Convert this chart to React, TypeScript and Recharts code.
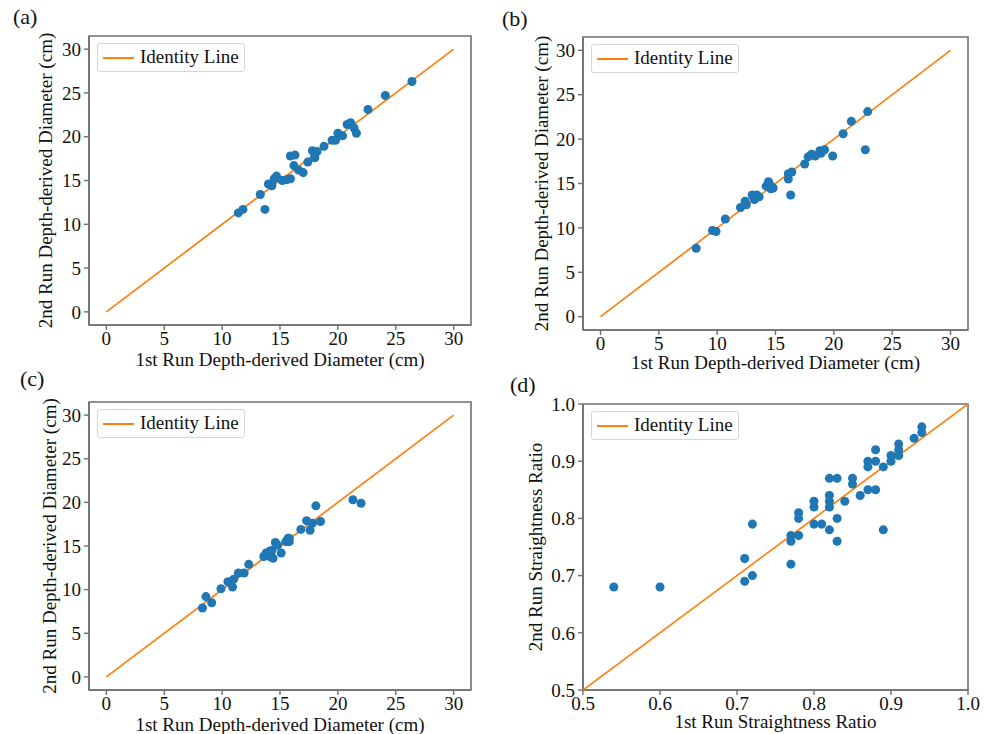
import {
  Legend,
  ReferenceArea,
  Scatter,
  ScatterChart,
  XAxis,
  YAxis,
  ZAxis,
} from 'recharts'

// (a) run-to-run depth-derived diameters, cm
const A_RUN1 = [11.4, 11.8, 13.3, 13.7, 14.0, 14.3, 14.5, 14.7, 15.2, 15.6, 15.9, 15.9, 16.3, 16.2, 16.6, 17.0, 17.4, 17.8, 18.0, 18.2, 18.0, 18.8, 19.5, 19.8, 20.0, 20.4, 20.8, 21.1, 21.4, 21.6, 22.6, 24.1, 26.4]
const A_RUN2 = [11.3, 11.7, 13.4, 11.7, 14.6, 14.4, 15.2, 15.5, 15.0, 15.1, 15.2, 17.8, 17.9, 16.7, 16.2, 15.9, 17.1, 18.4, 17.6, 18.3, 17.9, 18.9, 19.6, 19.6, 20.4, 20.1, 21.4, 21.6, 21.0, 20.4, 23.1, 24.7, 26.3]

// (b)
const B_RUN1 = [8.2, 9.6, 9.9, 10.7, 12.0, 12.4, 12.5, 13.0, 13.1, 13.2, 13.4, 13.6, 14.2, 14.4, 14.5, 14.6, 14.8, 16.1, 16.1, 16.3, 16.4, 17.5, 17.8, 18.1, 18.4, 18.8, 18.9, 19.2, 19.9, 20.8, 21.5, 22.7, 22.9]
const B_RUN2 = [7.7, 9.7, 9.6, 11.0, 12.3, 13.0, 12.6, 13.7, 13.5, 13.2, 13.7, 13.5, 14.7, 15.2, 14.9, 14.4, 14.5, 15.5, 16.1, 13.7, 16.3, 17.2, 18.0, 18.3, 18.1, 18.7, 18.4, 18.8, 18.1, 20.6, 22.0, 18.8, 23.1]

// (c)
const C_RUN1 = [8.3, 8.6, 9.1, 9.9, 10.5, 10.9, 11.0, 11.4, 11.9, 12.3, 13.6, 13.8, 13.9, 14.1, 14.1, 14.3, 14.4, 14.6, 14.8, 15.1, 15.5, 15.7, 15.8, 15.8, 16.8, 17.3, 17.6, 17.8, 18.1, 18.5, 21.3, 22.0]
const C_RUN2 = [7.9, 9.2, 8.5, 10.1, 10.9, 10.3, 11.2, 11.9, 11.9, 12.9, 13.8, 14.2, 14.0, 13.8, 14.4, 14.5, 13.6, 15.4, 15.1, 14.2, 15.5, 15.9, 15.5, 15.9, 16.9, 17.9, 16.8, 17.6, 19.6, 17.8, 20.3, 19.9]

// (d) straightness ratio
const D_RUN1 = [0.54, 0.60, 0.71, 0.71, 0.72, 0.72, 0.77, 0.77, 0.77, 0.78, 0.78, 0.78, 0.80, 0.80, 0.80, 0.81, 0.82, 0.82, 0.82, 0.82, 0.82, 0.83, 0.83, 0.83, 0.84, 0.85, 0.85, 0.86, 0.87, 0.87, 0.87, 0.88, 0.88, 0.88, 0.89, 0.89, 0.90, 0.90, 0.91, 0.91, 0.91, 0.93, 0.94, 0.94]
const D_RUN2 = [0.68, 0.68, 0.73, 0.69, 0.79, 0.70, 0.77, 0.76, 0.72, 0.81, 0.80, 0.77, 0.83, 0.82, 0.79, 0.79, 0.87, 0.84, 0.83, 0.82, 0.78, 0.87, 0.80, 0.76, 0.83, 0.87, 0.86, 0.84, 0.90, 0.89, 0.85, 0.92, 0.90, 0.85, 0.89, 0.78, 0.91, 0.90, 0.93, 0.92, 0.91, 0.94, 0.96, 0.95]

const DIAM_TICKS = [0, 5, 10, 15, 20, 25, 30]
const RATIO_TICKS = [0.5, 0.6, 0.7, 0.8, 0.9, 1.0]
const DIAM_IDENTITY = [0, 30]
const RATIO_IDENTITY = [0.5, 1.0]

const DIAM_X_LABEL = '1st Run Depth-derived Diameter (cm)'
const DIAM_Y_LABEL = '2nd Run Depth-derived Diameter (cm)'
const RATIO_X_LABEL = '1st Run Straightness Ratio'
const RATIO_Y_LABEL = '2nd Run Straightness Ratio'

const BLUE = '#1f77b4'
const ORANGE = '#ff7f0e'
const SPINE = '#707070'
const FONT = "'Liberation Serif', 'Times New Roman', serif"
const FS = 19

const pairs = (xs: number[], ys: number[]) => xs.map((x, i) => ({ x, y: ys[i] }))

function IdentityLegend() {
  return (
    <div
      style={{
        width: 146,
        height: 27,
        border: '1px solid #d6d6d6',
        borderRadius: 3,
        background: 'rgba(255,255,255,0.85)',
        position: 'relative',
        fontFamily: FONT,
        fontSize: FS,
        color: '#111',
      }}
    >
      <span style={{ position: 'absolute', left: 5, top: 12.5, width: 31, height: 0, borderTop: `2px solid ${ORANGE}` }} />
      <span style={{ position: 'absolute', left: 42, top: 2, lineHeight: '22px' }}>Identity Line</span>
    </div>
  )
}

interface PanelProps {
  tag: string
  left: number
  top: number
  width: number
  height: number
  plot: [number, number, number, number] // l, t, r, b in page px
  domain: [number, number]
  ticks: number[]
  identity: number[]
  points: { x: number; y: number }[]
  xLabel: string
  yLabel: string
  xLabelGap: number // plot bottom -> label baseline
  yLabelBase: number // absolute x of rotated label baseline
  tagPos: [number, number]
  decimals?: number
}

function Panel(p: PanelProps) {
  const [pl, pt, pr, pb] = p.plot
  const yw = pl - p.left
  const xh = p.top + p.height - pb
  const fmt = (v: number) => (p.decimals ? v.toFixed(p.decimals) : `${v}`)
  const tick = { fontSize: FS, fill: '#111', fontFamily: FONT }
  return (
    <>
      <div style={{ position: 'absolute', left: p.tagPos[0], top: p.tagPos[1], fontFamily: FONT, fontSize: 22, lineHeight: '22px', color: '#111' }}>
        {p.tag}
      </div>
      <div style={{ position: 'absolute', left: p.left, top: p.top }}>
        <ScatterChart
          width={p.width}
          height={p.height}
          margin={{ top: pt - p.top, right: p.left + p.width - pr, bottom: 0, left: 0 }}
          style={{ fontFamily: FONT }}
        >
          <XAxis
            type="number"
            dataKey="x"
            domain={p.domain}
            ticks={p.ticks}
            tickFormatter={fmt}
            allowDataOverflow
            height={xh}
            tick={tick}
            tickSize={5}
            tickMargin={2}
            tickLine={{ stroke: SPINE, strokeWidth: 1.4 }}
            axisLine={{ stroke: SPINE, strokeWidth: 1.6 }}
            label={{ value: p.xLabel, position: 'insideBottom', offset: xh - p.xLabelGap, style: { fontSize: FS, fill: '#111', fontFamily: FONT } }}
          />
          <YAxis
            type="number"
            dataKey="y"
            domain={p.domain}
            ticks={p.ticks}
            tickFormatter={fmt}
            allowDataOverflow
            width={yw}
            tick={tick}
            tickSize={5}
            tickMargin={3}
            tickLine={{ stroke: SPINE, strokeWidth: 1.4 }}
            axisLine={{ stroke: SPINE, strokeWidth: 1.6 }}
            label={{
              value: p.yLabel,
              angle: -90,
              position: 'insideLeft',
              offset: p.yLabelBase - p.left - FS * 0.355,
              style: { textAnchor: 'middle', fontSize: FS, fill: '#111', fontFamily: FONT },
            }}
          />
          <ZAxis range={[38, 38]} />
          <ReferenceArea
            x1={p.domain[0]}
            x2={p.domain[1]}
            y1={p.domain[0]}
            y2={p.domain[1]}
            fill="none"
            stroke={SPINE}
            strokeWidth={1.6}
            ifOverflow="visible"
          />
          <Scatter
            name="Identity Line"
            data={pairs(p.identity, p.identity)}
            line={{ stroke: ORANGE, strokeWidth: 1.7 }}
            shape={() => <g />}
            isAnimationActive={false}
          />
          <Scatter data={p.points} fill={BLUE} legendType="none" isAnimationActive={false} />
          <Legend
            layout="horizontal"
            verticalAlign="middle"
            content={<IdentityLegend />}
            wrapperStyle={{ left: pl - p.left + 8, top: pt - p.top + 7, width: 148, height: 29 }}
          />
        </ScatterChart>
      </div>
    </>
  )
}

export default function App() {
  return (
    <div style={{ position: 'absolute', left: 0, top: 0, width: 986, height: 734, background: '#fff', overflow: 'hidden' }}>
      <Panel
        tag="(a)"
        left={0}
        top={0}
        width={490}
        height={374}
        plot={[89, 36, 471, 325]}
        domain={[-1.5, 31.5]}
        ticks={DIAM_TICKS}
        identity={DIAM_IDENTITY}
        points={pairs(A_RUN1, A_RUN2)}
        xLabel={DIAM_X_LABEL}
        yLabel={DIAM_Y_LABEL}
        xLabelGap={41}
        yLabelBase={52}
        tagPos={[13, 6]}
      />
      <Panel
        tag="(b)"
        left={490}
        top={0}
        width={496}
        height={376}
        plot={[583, 37, 968, 330]}
        domain={[-1.5, 31.5]}
        ticks={DIAM_TICKS}
        identity={DIAM_IDENTITY}
        points={pairs(B_RUN1, B_RUN2)}
        xLabel={DIAM_X_LABEL}
        yLabel={DIAM_Y_LABEL}
        xLabelGap={39}
        yLabelBase={548}
        tagPos={[502, 8]}
      />
      <Panel
        tag="(c)"
        left={0}
        top={366}
        width={490}
        height={368}
        plot={[89, 402, 471, 690]}
        domain={[-1.5, 31.5]}
        ticks={DIAM_TICKS}
        identity={DIAM_IDENTITY}
        points={pairs(C_RUN1, C_RUN2)}
        xLabel={DIAM_X_LABEL}
        yLabel={DIAM_Y_LABEL}
        xLabelGap={40.5}
        yLabelBase={56}
        tagPos={[20, 368]}
      />
      <Panel
        tag="(d)"
        left={490}
        top={366}
        width={496}
        height={368}
        plot={[583, 404, 968, 690]}
        domain={[0.5, 1.0]}
        ticks={RATIO_TICKS}
        identity={RATIO_IDENTITY}
        points={pairs(D_RUN1, D_RUN2)}
        xLabel={RATIO_X_LABEL}
        yLabel={RATIO_Y_LABEL}
        xLabelGap={37.5}
        yLabelBase={542}
        tagPos={[510, 374]}
        decimals={1}
      />
    </div>
  )
}
